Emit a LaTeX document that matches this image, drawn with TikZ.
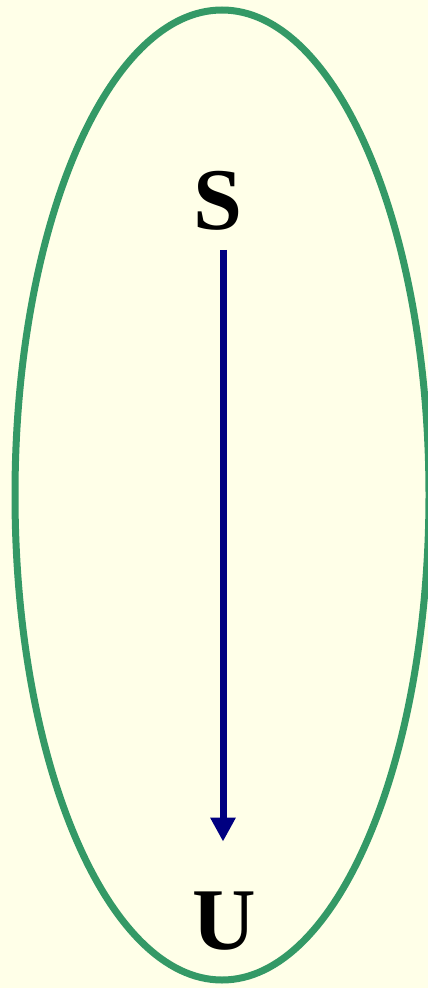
\documentclass[tikz,border=0pt]{standalone}
\usepackage{fontspec}
\setmainfont{Liberation Serif}
\usetikzlibrary{arrows.meta}
\definecolor{bgcol}{RGB}{255,255,232}
\definecolor{ringcol}{RGB}{52,153,102}
\definecolor{arrcol}{RGB}{0,0,128}
\tikzset{
  letter/.style={inner sep=0pt, font=\fontsize{88}{90}\selectfont\bfseries},
  ring/.style={draw=ringcol, line width=7pt},
  flow/.style={draw=arrcol, line width=7pt, -{Triangle[width=24pt,length=24pt]}}
}
\begin{document}
\begin{tikzpicture}[x=1pt,y=-1pt]
\fill[bgcol] (0,0) rectangle (428,988);
\useasboundingbox (0,0) rectangle (428,988);
\draw[ring] (222,495) ellipse [x radius=207, y radius=485];
\node[letter] (S) at (218,201) {S};
\node[letter] (U) at (224,921) {U};
\draw[flow, shorten <=19pt, shorten >=50pt] (S.south -| 223,0) -- (U.north -| 223,0);
\end{tikzpicture}
\end{document}
